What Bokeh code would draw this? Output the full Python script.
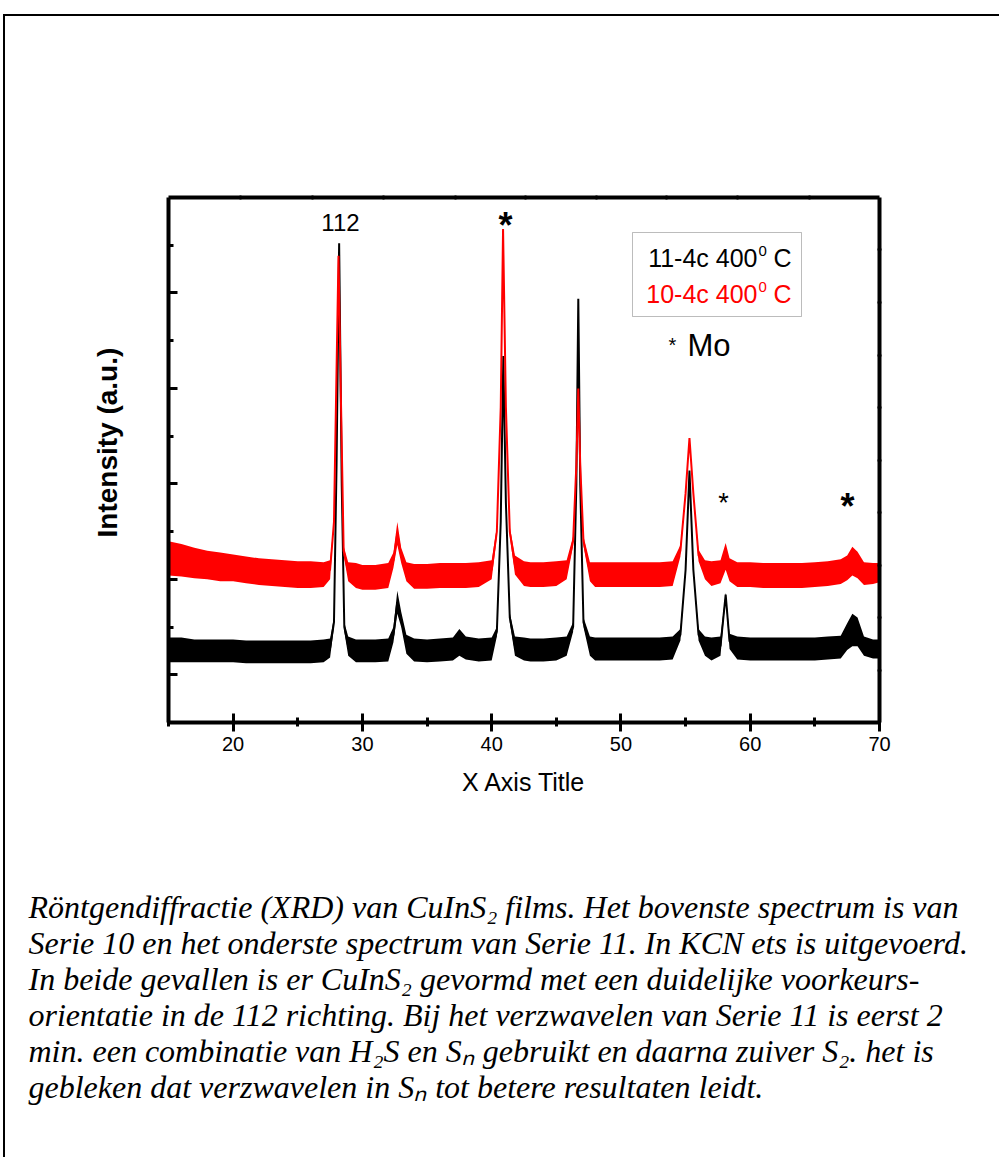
import math
from bokeh.plotting import figure
from bokeh.models import (Range1d, LinearAxis, FixedTicker, Label, BoxAnnotation,
                          ColumnDataSource, Title)
from bokeh.core.properties import value
from bokeh.embed import file_html
from bokeh.resources import INLINE

# ---------------- data ----------------
# 2-theta positions (degrees)
x_black = [15, 16, 17, 18, 19, 20, 21, 22, 23, 24, 25, 26, 27, 27.5, 27.8, 28.0, 28.2, 28.4,
           28.6, 28.9, 29.5, 30, 31, 32, 32.4, 32.7, 33.0, 33.4, 34, 35, 36, 37, 37.5, 38, 39,
           40, 40.4, 40.7, 40.9, 41.1, 41.4, 41.8, 42.5, 43, 44, 45, 45.8, 46.3, 46.55, 46.7,
           46.85, 47.1, 47.6, 48, 49, 50, 51, 52, 53, 54, 54.6, 55.0, 55.3, 55.6, 56.0, 56.5,
           57, 57.7, 58.1, 58.4, 59, 60, 61, 62, 63, 64, 65, 66, 67, 67.5, 67.9, 68.3, 68.8,
           69.5, 70]
# 11-4c 400 C : centre of the noisy trace (a.u.)
y_black = [0.26, 0.26, 0.25, 0.25, 0.25, 0.25, 0.24, 0.24, 0.24, 0.24, 0.24, 0.24, 0.25, 0.28,
           0.55, 2.2, 4.52, 2.0, 0.5, 0.3, 0.25, 0.25, 0.25, 0.26, 0.42, 0.76, 0.58, 0.32, 0.26,
           0.25, 0.26, 0.27, 0.34, 0.28, 0.26, 0.27, 0.45, 1.6, 3.34, 1.8, 0.6, 0.3, 0.27, 0.26,
           0.26, 0.27, 0.3, 0.5, 2.0, 3.94, 2.0, 0.55, 0.3, 0.27, 0.27, 0.27, 0.27, 0.27, 0.27,
           0.28, 0.42, 1.1, 2.14, 1.1, 0.42, 0.3, 0.27, 0.3, 0.84, 0.35, 0.28, 0.27, 0.27, 0.27,
           0.27, 0.27, 0.27, 0.28, 0.29, 0.4, 0.47, 0.45, 0.3, 0.27, 0.27]
# half width of the noise band
n_black = [0.13, 0.13, 0.12, 0.12, 0.12, 0.12, 0.12, 0.12, 0.12, 0.12, 0.12, 0.12, 0.12, 0.1,
           0.05, 0, 0, 0, 0.05, 0.1, 0.12, 0.12, 0.12, 0.12, 0.08, 0.12, 0.08, 0.1, 0.12, 0.12,
           0.12, 0.12, 0.14, 0.12, 0.12, 0.12, 0.05, 0, 0, 0, 0.05, 0.1, 0.12, 0.12, 0.12, 0.12,
           0.1, 0.05, 0, 0, 0, 0.05, 0.1, 0.12, 0.12, 0.12, 0.12, 0.12, 0.12, 0.12, 0.06, 0, 0,
           0, 0.06, 0.1, 0.12, 0.1, 0.02, 0.08, 0.12, 0.12, 0.12, 0.12, 0.12, 0.12, 0.12, 0.12,
           0.12, 0.14, 0.17, 0.15, 0.1, 0.1, 0.1]

x_red = [15, 16, 17, 18, 19, 20, 21, 22, 23, 24, 25, 26, 27, 27.5, 27.8, 28.0, 28.15, 28.35,
         28.55, 28.9, 29.5, 30, 31, 32, 32.4, 32.7, 33.0, 33.4, 34, 35, 36, 37, 38, 39, 40,
         40.4, 40.7, 40.88, 41.1, 41.4, 41.8, 42.5, 43, 44, 45, 45.8, 46.3, 46.55, 46.7, 46.85,
         47.1, 47.6, 48, 49, 50, 51, 52, 53, 54, 54.6, 55.0, 55.3, 55.6, 56.0, 56.5, 57, 57.7,
         58.1, 58.4, 59, 60, 61, 62, 63, 64, 65, 66, 67, 67.5, 67.9, 68.3, 68.8, 69.5, 70]
# 10-4c 400 C
y_red = [1.22, 1.2, 1.17, 1.15, 1.13, 1.12, 1.1, 1.08, 1.07, 1.06, 1.05, 1.05, 1.05, 1.1, 1.6,
         3.2, 4.39, 2.8, 1.3, 1.08, 1.04, 1.02, 1.02, 1.04, 1.2, 1.48, 1.25, 1.08, 1.03, 1.03,
         1.04, 1.04, 1.04, 1.05, 1.1, 1.5, 2.8, 4.67, 2.8, 1.5, 1.15, 1.06, 1.05, 1.05, 1.06,
         1.1, 1.4, 2.2, 3.0, 2.2, 1.4, 1.08, 1.05, 1.05, 1.05, 1.05, 1.05, 1.05, 1.06, 1.3, 1.9,
         2.48, 1.9, 1.25, 1.1, 1.06, 1.08, 1.24, 1.1, 1.05, 1.05, 1.04, 1.04, 1.04, 1.04, 1.05,
         1.06, 1.08, 1.12, 1.19, 1.15, 1.06, 1.06, 1.07]
n_red = [0.18, 0.17, 0.16, 0.15, 0.15, 0.14, 0.14, 0.14, 0.14, 0.14, 0.14, 0.14, 0.13, 0.1,
         0, 0, 0, 0, 0.05, 0.1, 0.13, 0.13, 0.13, 0.13, 0.08, 0.12, 0.08, 0.1, 0.13, 0.13,
         0.13, 0.13, 0.13, 0.13, 0.1, 0.05, 0, 0, 0, 0.05, 0.1, 0.13, 0.13, 0.13, 0.13, 0.1,
         0.05, 0, 0, 0, 0.05, 0.1, 0.13, 0.13, 0.13, 0.13, 0.13, 0.13, 0.13, 0.06, 0, 0, 0,
         0.06, 0.1, 0.13, 0.12, 0.14, 0.12, 0.13, 0.13, 0.13, 0.13, 0.13, 0.13, 0.13, 0.13,
         0.13, 0.13, 0.15, 0.14, 0.12, 0.11, 0.1]

x_ticks = [20, 30, 40, 50, 60, 70]
x_minor = [15, 25, 35, 45, 55, 65]
y_ticks = [0, 1, 2, 3, 4]
y_minor = [-0.5, 0.5, 1.5, 2.5, 3.5, 4.5]
top_ticks = [20.57, 26.14, 31.63, 37.20, 42.62, 48.11, 53.52, 59.01, 64.59]
right_ticks = [0.05, 0.604, 1.149, 1.703, 2.248, 2.802, 3.346, 3.901, 4.456]

x_title = "X Axis Title"
y_title = "Intensity (a.u.)"
legend_black = "11-4c 400"
legend_red = "10-4c 400"
caption = [
    "Röntgendiffractie (XRD) van CuInS\u2082 films. Het bovenste spectrum is van",
    "Serie 10 en het onderste spectrum van Serie 11. In KCN ets is uitgevoerd.",
    "In beide gevallen is er CuInS\u2082 gevormd met een duidelijke voorkeurs-",
    "orientatie in de 112 richting. Bij het verzwavelen van Serie 11 is eerst 2",
    "min. een combinatie van H\u2082S en S\u2099 gebruikt en daarna zuiver S\u2082. het is",
    "gebleken dat verzwavelen in S\u2099 tot betere resultaten leidt.",
]

# ---------------- layout ----------------
W, H = 996, 834
FL, FT, FR, FB = 163, 181, 874, 706   # frame edges in canvas px
X0, X1 = 15, 70
Y0, Y1 = -0.5, 5.0
OX, OY = 5, 16   # canvas origin on the page

def ax(px):  # page px -> data x (annotations only)
    return X0 + (px - OX - FL) * (X1 - X0) / (FR - FL)

def ay(py):
    return Y1 - (py - OY - FT) * (Y1 - Y0) / (FB - FT)

p = figure(width=W, height=H, x_range=Range1d(X0, X1), y_range=Range1d(Y0, Y1),
           x_axis_type=None, y_axis_type=None, output_backend="svg",
           toolbar_location=None, min_border_left=FL, min_border_top=FT,
           min_border_right=W - FR, min_border_bottom=H - FB)
p.outline_line_color = None
p.grid.visible = False
p.background_fill_color = "white"
p.border_fill_color = "white"
p.styles = {"border-top": "2px solid #000", "border-left": "2px solid #000"}
p.margin = (14, 0, 0, 3)

FONT = "Liberation Sans"

def style_axis(a, tin, tout, mtin, mtout):
    a.axis_line_width = 4
    a.axis_line_color = "black"
    a.major_tick_line_width = 3
    a.minor_tick_line_width = 3
    a.major_tick_in = tin
    a.major_tick_out = tout
    a.minor_tick_in = mtin
    a.minor_tick_out = mtout

xb = LinearAxis(ticker=FixedTicker(ticks=x_ticks, minor_ticks=x_minor))
style_axis(xb, 9, 9, 5, 4)
xb.major_label_text_font = FONT
xb.major_label_text_font_size = "20px"
xb.major_label_text_color = "black"
xb.major_label_standoff = 5
xb.axis_label = x_title
xb.axis_label_text_font = FONT
xb.axis_label_text_font_size = "25px"
xb.axis_label_text_font_style = "normal"
xb.axis_label_text_color = "black"
xb.axis_label_standoff = 14
p.add_layout(xb, "below")

yl = LinearAxis(ticker=FixedTicker(ticks=y_ticks, minor_ticks=y_minor))
style_axis(yl, 9, 0, 5, 0)
yl.major_label_text_alpha = 0
yl.major_label_text_font_size = "1px"
yl.major_label_standoff = 0
p.add_layout(yl, "left")
# vertical axis title: starts 185 px above the frame bottom
p.add_layout(Title(text=y_title, align="left", offset=185, text_font=FONT,
                   text_font_size="28px", text_font_style="bold", text_color="black",
                   standoff=91), "left")

xt = LinearAxis(ticker=FixedTicker(ticks=top_ticks))
style_axis(xt, 2, 2, 0, 0)
xt.major_tick_line_width = 2
xt.major_label_text_alpha = 0
xt.major_label_text_font_size = "1px"
p.add_layout(xt, "above")

yr = LinearAxis(ticker=FixedTicker(ticks=right_ticks))
style_axis(yr, 2, 2, 0, 0)
yr.major_tick_line_width = 2
yr.major_label_text_alpha = 0
yr.major_label_text_font_size = "1px"
p.add_layout(yr, "right")

# ---------------- traces ----------------
def draw(xs, ys, ns, color):
    src = ColumnDataSource(dict(x=xs, y=ys,
                                lo=[a - b for a, b in zip(ys, ns)],
                                hi=[a + b for a, b in zip(ys, ns)]))
    p.varea(x="x", y1="lo", y2="hi", source=src, fill_color=color, fill_alpha=1.0)
    p.line(x="x", y="y", source=src, line_color=color, line_width=2)

draw(x_black, y_black, n_black, "black")
draw(x_red, y_red, n_red, "#ff0000")

# ---------------- annotations ----------------
def lab(text, px, py, size, color="black", align="left", style="normal", font=FONT):
    # py is the wanted baseline on the page; Bokeh draws ~0.37*size lower
    p.add_layout(Label(x=ax(px), y=ay(py - 0.37 * size), text=text, text_font=font,
                       text_font_size=f"{size}px", text_color=color, text_align=align,
                       text_baseline="alphabetic", text_font_style=style))

lab("112", 340, 231, 24, align="center")
lab("*", 505, 238, 36, align="center", style="bold")
lab("*", 723, 512, 27, align="center")
lab("*", 847, 519, 36, align="center", style="bold")

p.add_layout(BoxAnnotation(left=ax(632), right=ax(801), top=ay(232), bottom=ay(316),
                           fill_alpha=0, line_color="#222222", line_width=1))
lab(legend_black, 757, 267, 25, align="right")
lab("0", 758, 256, 15)
lab("C", 773, 267, 25)
lab(legend_red, 757, 303, 25, color="#ff0000", align="right")
lab("0", 758, 292, 15, color="#ff0000")
lab("C", 773, 303, 25, color="#ff0000")

lab("*", 668, 352, 20)
lab("Mo", 687, 356, 31)

# ---------------- caption (separate text panel below the chart) ----------------
CAP_TOP = 850          # page y where the caption panel starts
CH = 309
CS = 32
cap = figure(width=W, height=CH, x_range=Range1d(0, W), y_range=Range1d(CH, 0),
             x_axis_type=None, y_axis_type=None, output_backend="svg",
             toolbar_location=None, min_border=0, min_border_left=0, min_border_right=0,
             min_border_top=0, min_border_bottom=0)
cap.outline_line_color = None
cap.grid.visible = False
cap.styles = {"border-left": "2px solid #000"}
cap.margin = (0, 0, 0, 3)
cap_x = [28 - OX] * len(caption)
cap_y = [918 - CAP_TOP - 0.3 * CS + 36 * i for i in range(len(caption))]
cap.text(x=cap_x, y=cap_y, text=caption, text_font=value("Liberation Serif"),
         text_font_style="italic", text_font_size=f"{CS}px", text_color="black",
         text_baseline="alphabetic", text_align="left")

open("out.html", "w").write(file_html([p, cap], INLINE))
